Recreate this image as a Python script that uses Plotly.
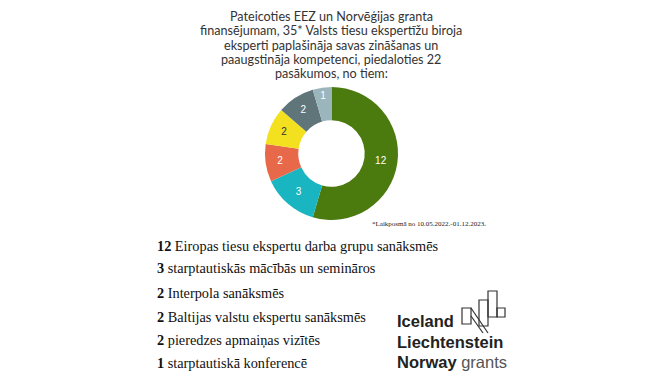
import plotly.graph_objects as go

W, H = 665, 375

# data
counts = [12, 3, 2, 2, 2, 1]
categories = [
    "Eiropas tiesu ekspertu darba grupu sanāksmēs",
    "starptautiskās mācībās un semināros",
    "Interpola sanāksmēs",
    "Baltijas valstu ekspertu sanāksmēs",
    "pieredzes apmaiņas vizītēs",
    "starptautiskā konferencē",
]
slice_colors = ["#4B7A0E", "#19B5C0", "#E8694A", "#F3E120", "#5F757A", "#9BB5BC"]
label_colors = ["#FFFFFF", "#FFFFFF", "#FFFFFF", "#333333", "#FFFFFF", "#FFFFFF"]
title_lines = [
    "Pateicoties EEZ un Norvēģijas granta",
    "finansējumam, 35* Valsts tiesu ekspertīžu biroja",
    "eksperti paplašināja savas zināšanas un",
    "paaugstināja kompetenci, piedaloties 22",
    "pasākumos, no tiem:",
]
footnote = "*Laikposmā no 10.05.2022.-01.12.2023."


def px(x):
    return x / W


def py(y):
    return 1 - y / H


fig = go.Figure()
fig.add_trace(go.Pie(
    values=counts,
    labels=categories,
    text=[str(c) for c in counts],
    textinfo="text",
    textposition="inside",
    insidetextorientation="horizontal",
    insidetextfont=dict(family="Liberation Sans, Arial", size=10, color=label_colors),
    marker=dict(colors=slice_colors, line=dict(color="white", width=0)),
    hole=0.5,
    sort=False,
    direction="clockwise",
    rotation=0,
    showlegend=False,
    hoverinfo="label+value",
    domain=dict(x=[px(264), px(399)], y=[py(220), py(87)]),
))

ann = []
title_y = [16.5, 30.8, 45, 59.2, 73.5]
for t, yy in zip(title_lines, title_y):
    ann.append(dict(text=t, x=px(331), y=py(yy), xref="paper", yref="paper",
                    xanchor="center", yanchor="middle", showarrow=False,
                    font=dict(family="Lato", size=12.6, color="#333333")))

ann.append(dict(text=footnote, x=px(370), y=py(224), xref="paper", yref="paper",
                xanchor="left", yanchor="middle", showarrow=False,
                font=dict(family="Liberation Serif", size=7, color="#222222")))

list_y = [246, 268, 293, 317, 340, 363]
for c, cat, yy in zip(counts, categories, list_y):
    ann.append(dict(text=f"<b>{c}</b> {cat}", x=px(155), y=py(yy), xref="paper", yref="paper",
                    xanchor="left", yanchor="middle", showarrow=False,
                    font=dict(family="Liberation Serif", size=14.3, color="#111111")))

# logo text
logo = [("<b>Iceland</b>", 321), ("<b>Liechtenstein</b>", 342),
        ("<b>Norway</b><span style='color:#555555'> grants</span>", 362)]
for t, yy in logo:
    ann.append(dict(text=t, x=px(395), y=py(yy), xref="paper", yref="paper",
                    xanchor="left", yanchor="middle", showarrow=False,
                    font=dict(family="Liberation Sans, Arial", size=16.5, color="#222222")))

# logo graphic
shapes = []
def rect(x0, y0, x1, y1):
    shapes.append(dict(type="rect", xref="paper", yref="paper",
                       x0=px(x0), x1=px(x1), y0=py(y1), y1=py(y0),
                       line=dict(color="#333333", width=1.2), fillcolor="rgba(0,0,0,0)"))
def line(x0, y0, x1, y1):
    shapes.append(dict(type="line", xref="paper", yref="paper",
                       x0=px(x0), x1=px(x1), y0=py(y0), y1=py(y1),
                       line=dict(color="#333333", width=1.2)))

rect(462, 308, 471, 324)
rect(479, 300, 488, 326)
rect(488, 291, 497, 317)
rect(497, 308, 505, 317)
line(471, 308, 488, 333)
line(471, 316, 483, 333)

fig.update_layout(
    width=W, height=H,
    margin=dict(l=0, r=0, t=0, b=0),
    paper_bgcolor="white", plot_bgcolor="white",
    annotations=ann, shapes=shapes,
)

fig.write_html("out.html", config={"displayModeBar": False},
               post_script="document.body.style.margin='0';document.body.style.padding='0';")
